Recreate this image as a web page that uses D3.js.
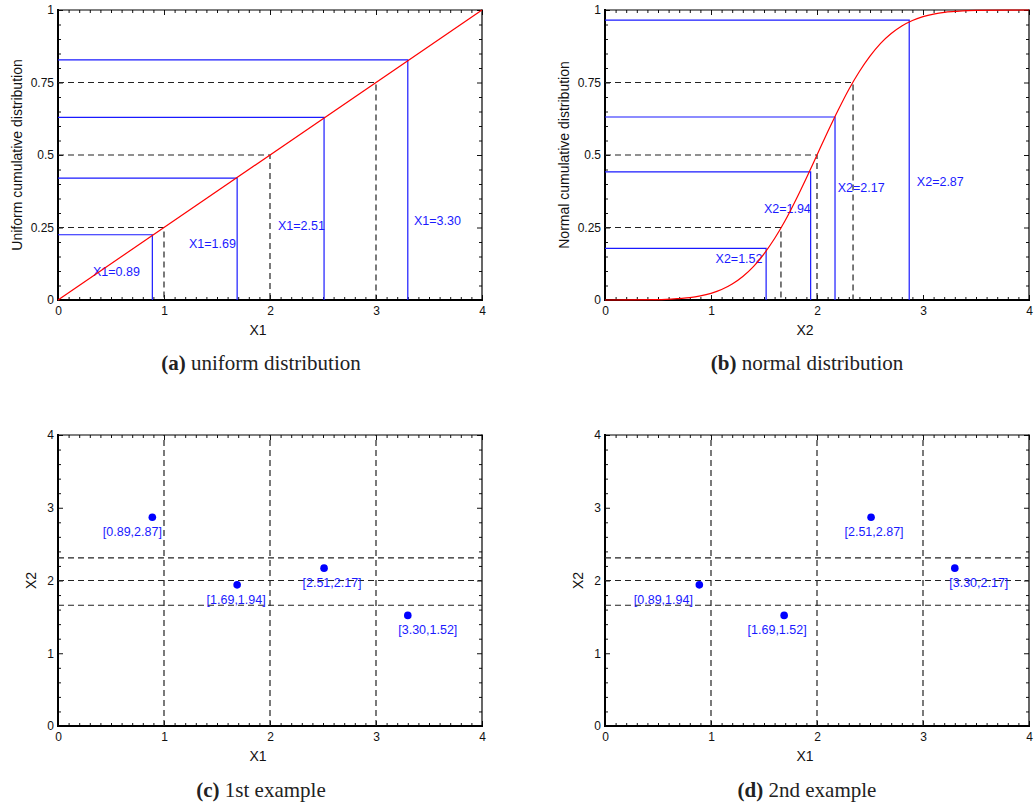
<!DOCTYPE html>
<html>
<head>
<meta charset="utf-8">
<script src="https://cdn.jsdelivr.net/npm/d3@7"></script>
<style>
  body { margin: 0; background: #fff; }
  svg { display: block; }
  .tick text { font-family: "Liberation Sans", Arial, sans-serif; font-size: 12px; fill: #111; }
  .axis-title { font-family: "Liberation Sans", Arial, sans-serif; font-size: 14px; fill: #111; }
  .blue-label { font-family: "Liberation Sans", Arial, sans-serif; font-size: 12.5px; fill: #1a1aff; }
  .caption { font-family: "Liberation Serif", "Times New Roman", serif; font-size: 21px; fill: #222; }
</style>
</head>
<body>
<svg id="chart" width="1034" height="807"></svg>
<script>
// ---- data ----
const uniformSamples = [0.89, 1.69, 2.51, 3.30];
const uniformCdf = [0.225, 0.42, 0.63, 0.828];
const uniformLineX = [0, 4];
const uniformLineY = [0, 1];

const normalSamples = [1.52, 1.94, 2.17, 2.87];
const normalCdf = [0.178, 0.442, 0.631, 0.965];
const normalCurveX = [0, 0.5, 0.7, 0.8, 0.9, 1.0, 1.1, 1.2, 1.3, 1.4, 1.5, 1.6, 1.7, 1.8, 1.9, 2.0,
                      2.1, 2.2, 2.3, 2.4, 2.5, 2.6, 2.7, 2.8, 2.9, 3.0, 3.1, 3.2, 3.3, 3.5, 4.0];
const normalCurveY = [0, 0.001, 0.005, 0.008, 0.014, 0.023, 0.036, 0.055, 0.081, 0.115, 0.159, 0.212, 0.274, 0.345, 0.421, 0.5,
                      0.579, 0.655, 0.726, 0.788, 0.841, 0.885, 0.919, 0.945, 0.964, 0.977, 0.986, 0.992, 0.995, 0.999, 1.0];

const quartileProbs = [0.25, 0.5, 0.75];
const uniformQuartiles = [1, 2, 3];
const normalQuartiles = [1.66, 2.0, 2.34];

const gridX1 = [1, 2, 3];
const gridX2 = [1.66, 2.0, 2.31];

const example1X1 = [0.89, 1.69, 2.51, 3.30];
const example1X2 = [2.87, 1.94, 2.17, 1.52];
const example2X1 = [0.89, 1.69, 2.51, 3.30];
const example2X2 = [1.94, 1.52, 2.87, 2.17];

const cdfTicks = [0, 0.25, 0.5, 0.75, 1];
const xTicks = [0, 1, 2, 3, 4];

// ---- layout ----
const svg = d3.select("#chart");
const fmt2 = d3.format(".2f");

const panels = {
    a: { left: 58, top: 10, width: 424, height: 290 },
    b: { left: 605, top: 10, width: 424, height: 290 },
    c: { left: 58, top: 435, width: 424, height: 291 },
    d: { left: 605, top: 435, width: 424, height: 291 }
};

// label anchor (data coords) for the cdf panels
const uniformLabelAt = [[0.33, 0.083], [1.236, 0.179], [2.075, 0.241], [3.358, 0.259]];
const normalLabelAt = [[1.043, 0.129], [1.499, 0.299], [2.196, 0.373], [2.942, 0.393]];
// horizontal shift (px) of the point labels in the example panels
const example1Shift = [-20, -1, 8, 20];
const example2Shift = [-36, -7, 3, 24];

function makePanel(p, yDomain, yMajor, yMinorStep, xTitle, yTitle, yTitleOffset) {
    const g = svg.append("g").attr("transform", `translate(${p.left},${p.top})`);
    const x = d3.scaleLinear().domain([0, 4]).range([0, p.width]);
    const y = d3.scaleLinear().domain(yDomain).range([p.height, 0]);

    const xMinor = d3.range(0, 4.0001, 0.1).filter(v => Math.abs(v - Math.round(v)) > 1e-6);
    const yMinor = d3.range(yDomain[0], yDomain[1] + 1e-6, yMinorStep)
        .filter(v => !yMajor.some(m => Math.abs(m - v) < 1e-6));
    const fmt = d3.format("~g");

    // minor ticks all round
    g.append("g").attr("transform", `translate(0,${p.height})`)
        .call(d3.axisBottom(x).tickValues(xMinor).tickSize(-3).tickFormat(""));
    g.append("g").call(d3.axisTop(x).tickValues(xMinor).tickSize(-3).tickFormat(""));
    g.append("g").call(d3.axisLeft(y).tickValues(yMinor).tickSize(-3).tickFormat(""));
    g.append("g").attr("transform", `translate(${p.width},0)`)
        .call(d3.axisRight(y).tickValues(yMinor).tickSize(-3).tickFormat(""));

    // major ticks
    g.append("g").attr("transform", `translate(0,${p.height})`)
        .call(d3.axisBottom(x).tickValues(xTicks).tickSize(-5).tickPadding(6).tickFormat(fmt));
    g.append("g").call(d3.axisTop(x).tickValues(xTicks).tickSize(-5).tickFormat(""));
    g.append("g").call(d3.axisLeft(y).tickValues(yMajor).tickSize(-5).tickPadding(4).tickFormat(fmt));
    g.append("g").attr("transform", `translate(${p.width},0)`)
        .call(d3.axisRight(y).tickValues(yMajor).tickSize(-5).tickFormat(""));

    g.selectAll(".domain").remove();
    g.selectAll(".tick line").attr("stroke", "#111").attr("stroke-width", 1);
    g.selectAll(".tick text").attr("font-family", null).attr("font-size", null);

    // frame: left and bottom heavier
    const frame = [
        { x1: 0, y1: 0, x2: p.width, y2: 0, w: 1.2 },
        { x1: p.width, y1: 0, x2: p.width, y2: p.height, w: 1.2 },
        { x1: 0, y1: 0, x2: 0, y2: p.height, w: 2 },
        { x1: 0, y1: p.height, x2: p.width, y2: p.height, w: 2 }
    ];
    g.selectAll("line.frame").data(frame).enter().append("line")
        .attr("class", "frame")
        .attr("x1", d => d.x1).attr("y1", d => d.y1)
        .attr("x2", d => d.x2).attr("y2", d => d.y2)
        .attr("stroke", "#000").attr("stroke-width", d => d.w)
        .attr("stroke-linecap", "square");

    g.append("text").attr("class", "axis-title")
        .attr("x", p.width / 2 - 12).attr("y", p.height + 35)
        .attr("text-anchor", "middle").text(xTitle);
    g.append("text").attr("class", "axis-title")
        .attr("transform", `translate(${-yTitleOffset},${p.height / 2}) rotate(-90)`)
        .attr("dy", "0.35em")
        .attr("text-anchor", "middle").text(yTitle);

    return { g, x, y };
}

function dashed(g, pts) {
    g.append("path")
        .attr("d", d3.line()(pts))
        .attr("fill", "none")
        .attr("stroke", "#222")
        .attr("stroke-width", 1.2)
        .attr("stroke-dasharray", "6,4");
}

function cdfPanel(p, samples, cdf, qx, curveX, curveY, labelAt, name, yTitle, smooth) {
    const { g, x, y } = makePanel(p, [0, 1], cdfTicks, 0.05, name, yTitle, 41);

    // quartile guides
    qx.forEach((q, i) => {
        dashed(g, [[x(0), y(quartileProbs[i])], [x(q), y(quartileProbs[i])], [x(q), y(0)]]);
    });

    // samples
    samples.forEach((s, i) => {
        g.append("path")
            .attr("d", d3.line()([[x(0), y(cdf[i])], [x(s), y(cdf[i])], [x(s), y(0)]]))
            .attr("fill", "none")
            .attr("stroke", "#1a1aff")
            .attr("stroke-width", 1.2);
        g.append("text").attr("class", "blue-label")
            .attr("x", x(labelAt[i][0]))
            .attr("y", y(labelAt[i][1]))
            .text(`${name}=${fmt2(s)}`);
    });

    // cdf curve
    const line = d3.line()
        .x((d, i) => x(curveX[i]))
        .y(d => y(d))
        .curve(smooth ? d3.curveMonotoneX : d3.curveLinear);
    g.append("path")
        .datum(curveY)
        .attr("d", line)
        .attr("fill", "none")
        .attr("stroke", "#ff0000")
        .attr("stroke-width", 1.2);
}

function examplePanel(p, xs, ys, shift) {
    const { g, x, y } = makePanel(p, [0, 4], xTicks, 0.2, "X1", "X2", 27);

    gridX1.forEach(v => dashed(g, [[x(v), y(0)], [x(v), y(4)]]));
    gridX2.forEach(v => dashed(g, [[x(0), y(v)], [x(4), y(v)]]));

    g.selectAll("circle.pt").data(xs).enter().append("circle")
        .attr("class", "pt")
        .attr("cx", d => x(d))
        .attr("cy", (d, i) => y(ys[i]))
        .attr("r", 3.8)
        .attr("fill", "#0000ff");

    g.selectAll("text.pt-label").data(xs).enter().append("text")
        .attr("class", "blue-label pt-label")
        .attr("x", (d, i) => x(d) + shift[i])
        .attr("y", (d, i) => y(ys[i]) + 19)
        .attr("text-anchor", "middle")
        .text((d, i) => `[${fmt2(d)},${fmt2(ys[i])}]`);
}

cdfPanel(panels.a, uniformSamples, uniformCdf, uniformQuartiles, uniformLineX, uniformLineY,
         uniformLabelAt, "X1", "Uniform cumulative distribution", false);
cdfPanel(panels.b, normalSamples, normalCdf, normalQuartiles, normalCurveX, normalCurveY,
         normalLabelAt, "X2", "Normal cumulative distribution", true);
examplePanel(panels.c, example1X1, example1X2, example1Shift);
examplePanel(panels.d, example2X1, example2X2, example2Shift);

// captions
const captions = [
    { key: "(a)", rest: " uniform distribution", cx: 261, cy: 370 },
    { key: "(b)", rest: " normal distribution", cx: 807, cy: 370 },
    { key: "(c)", rest: " 1st example", cx: 261, cy: 797 },
    { key: "(d)", rest: " 2nd example", cx: 807, cy: 797 }
];
captions.forEach(c => {
    const t = svg.append("text").attr("class", "caption")
        .attr("x", c.cx).attr("y", c.cy).attr("text-anchor", "middle");
    t.append("tspan").attr("font-weight", "bold").text(c.key);
    t.append("tspan").text(c.rest);
});
</script>
</body>
</html>
